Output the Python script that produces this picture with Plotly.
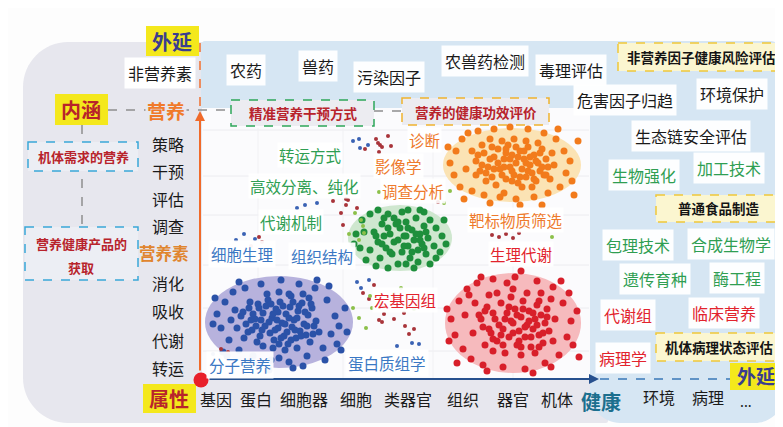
import plotly.graph_objects as go

# ---------------- data (text) ----------------
LEFT_TERMS = ["策略", "干预", "评估", "调查", "营养素", "消化", "吸收", "代谢", "转运"]
AXIS_TERMS = ["基因", "蛋白", "细胞器", "细胞", "类器官", "组织", "器官", "机体"]
AXIS_EXT_TERMS = ["环境", "病理", "..."]
TOP_TERMS = ["农药", "兽药", "污染因子", "农兽药检测", "毒理评估", "危害因子归趋", "环境保护", "生态链安全评估"]
RIGHT_GREEN_TERMS = ["生物强化", "加工技术", "包理技术", "合成生物学", "遗传育种", "酶工程"]
RIGHT_RED_TERMS = ["代谢组", "临床营养", "病理学"]
PLOT_GREEN_TERMS = ["转运方式", "高效分离、纯化", "代谢机制"]
PLOT_BLUE_TERMS = ["细胞生理", "组织结构", "分子营养", "蛋白质组学"]
PLOT_RED_TERMS = ["宏基因组", "生理代谢"]
PLOT_ORANGE_TERMS = ["诊断", "影像学", "调查分析", "靶标物质筛选"]
BOX_TERMS = ["非营养因子健康风险评估", "普通食品制造", "机体病理状态评估"]

# ---------------- data (cluster points, offsets from cluster centre) ----------------
BLUE_PTS = [(-38,-6),(-33,2),(-30,-14),(-27,8),(-24,-3),(-21,-18),(-19,14),(-16,-9),(-14,4),(-11,-22),
            (-9,11),(-7,-4),(-5,18),(-3,-13),(-1,6),(1,-20),(3,1),(5,14),(7,-8),(9,22),(11,-15),(13,5),
            (15,-2),(17,16),(19,-11),(21,9),(23,-19),(25,2),(27,13),(29,-7),(31,20),(33,-14),(35,4),(37,-1),
            (-35,16),(-29,-20),(-22,20),(-12,-28),(0,-30),(12,-26),(24,-28),(-6,26),(6,28),(18,26),(30,-24),
            (-42,6),(40,10),(-2,-2),(8,10),(-18,-2),
            (-36,-10),(-31,10),(-26,-8),(-23,4),(-20,-14),(-17,8),(-13,-16),(-10,0),(-8,-18),(-4,8),
            (-1,-10),(2,16),(4,-16),(6,2),(10,-4),(12,18),(14,-20),(16,8),(20,-16),(22,14),(26,-10),(28,4),
            (32,-18),(34,12),(-28,-2),(-16,24),(0,22),(18,-4),(-6,-8),(10,-28),
            (-62,-8),(-58,6),(-54,-20),(-50,18),(-46,-30),(-44,-12),(-40,28),(-34,-34),(-26,34),(-18,-38),
            (-8,38),(2,-42),(10,40),(20,-38),(28,34),(36,-34),(44,26),(48,-22),(52,12),(56,-6),(60,4),(58,22),
            (-66,2),(-56,30),(46,38),(-30,40),(14,46),(66,-14),(-48,-2),(50,-36),(-10,48),(-64,-24),(38,-42),
            (68,10),(-20,44),(24,44),(-40,-40),(0,36),(-52,34),(62,28)]
ORANGE_PTS = [(-36,-4),(-32,6),(-28,-12),(-24,2),(-20,12),(-18,-8),(-14,-16),(-12,4),(-8,-6),(-6,14),
              (-4,-20),(-2,2),(0,-10),(2,10),(4,-2),(6,18),(8,-14),(10,4),(12,-6),(14,12),(16,-18),(18,0),
              (20,8),(22,-10),(24,16),(26,-2),(28,6),(30,-16),(32,10),(34,-6),(36,2),(-26,16),(-16,20),
              (-10,-24),(2,-26),(14,-24),(26,-22),(38,14),(-40,-14),(40,-12),(-30,-20),(-22,-26),(10,22),
              (-6,-12),(20,22),
              (-34,-10),(-30,0),(-26,8),(-22,-6),(-18,4),(-14,-2),(-10,10),(-6,-16),(-2,-6),(0,6),(4,-18),
              (6,-8),(8,12),(12,-14),(16,6),(18,-8),(22,14),(24,-4),(28,-12),(30,2),(34,10),(-20,-18),(0,16),
              (14,-2),(-8,2),
              (-62,-2),(-58,10),(-56,-14),(-52,22),(-50,-26),(-46,4),(-44,-32),(-40,26),(-34,-34),(-28,30),
              (-18,-36),(-12,32),(-2,-38),(4,34),(16,-36),(22,32),(32,-32),(36,28),(44,-26),(48,22),(52,-14),
              (54,8),(58,-4),(60,16),(-64,-18),(46,-36),(66,-24),(-48,34),(8,40),(-22,38),(62,30),(30,40),
              (-36,10),(42,0),(-8,28)]
RED_PTS = [(-34,-8),(-30,4),(-26,-16),(-22,10),(-18,-4),(-16,18),(-12,-20),(-10,6),(-6,-10),(-4,14),
           (-2,-26),(0,0),(2,-14),(4,22),(6,8),(8,-6),(10,-22),(12,14),(14,2),(16,-12),(18,24),(20,6),
           (22,-4),(24,-18),(26,12),(28,-8),(30,20),(32,0),(34,-14),(36,8),(-28,22),(-20,28),(-8,30),(8,32),
           (22,30),(38,-24),(-38,-20),(-16,-30),(40,18),(0,-34),(14,-30),(-24,-28),(28,-30),(42,-4),(-40,10),
           (-32,-4),(-28,-12),(-24,6),(-20,-10),(-14,2),(-12,12),(-8,-4),(-4,-16),(0,10),(4,-8),(6,18),
           (10,-14),(12,4),(16,-2),(18,14),(20,-10),(24,2),(26,-22),(30,10),(34,-6),(-20,16),(-10,22),(8,24),
           (26,24),(-2,-2),
           (-62,-4),(-58,12),(-54,-22),(-50,26),(-48,-8),(-46,-34),(-42,36),(-36,-40),(-30,42),(-20,-44),
           (-10,44),(2,-46),(12,46),(24,-42),(32,40),(40,-36),(46,32),(50,-20),(54,14),(58,-2),(60,22),
           (56,-30),(-64,18),(64,-12),(-56,40),(-6,-40),(38,44),(-32,-46),(20,50),(-44,-28),(66,34),(-26,48),
           (48,-42),(-66,-14),(8,-52)]
GREEN_PTS = [(-26,-6),(-22,4),(-18,-14),(-14,10),(-10,-4),(-8,16),(-6,-20),(-2,2),(0,-10),(2,14),(4,-2),
             (6,-16),(8,8),(10,20),(12,-8),(14,2),(16,-20),(18,12),(20,-4),(22,6),(24,-12),(26,16),(28,0),
             (-30,12),(-20,20),(-12,-24),(2,-26),(18,24),(30,-18),(34,8),
             (-24,-2),(-18,6),(-12,-10),(-6,4),(-2,-16),(4,8),(8,-10),(12,14),(16,-4),(20,2),(24,10),
             (-10,14),(6,-2),(-16,-20),(26,-6),
             (-44,-4),(-40,10),(-38,-18),(-34,22),(-30,-24),(-24,28),(-12,30),(-2,26),(8,-28),(14,30),
             (24,-26),(30,26),(36,-10),(40,14),(42,-2),(44,-18),(46,6),(-46,6),(-16,-2),(-4,-14),(36,20),
             (-36,-6),(20,-28),(-22,-28),(6,26)]

# scattered transition dots (absolute)
SMALL_BLUE_X = [345,351,352,360,289,297,309,228,236,247,349,353,361,389,404,411,205]
SMALL_BLUE_Y = [133,131,140,137,200,197,195,232,226,231,274,280,272,338,335,336,346]
SMALL_RED_X = [368,374,380,357,371,383,325,338,333,349,335,243,251,254,355,366,361,376,386,397,401,406,396,
               430,484,491,498,505,511,213,220,370,372,338,340,371,374]
SMALL_RED_Y = [131,139,128,141,144,138,193,197,205,200,217,238,229,234,285,277,291,306,311,318,326,321,305,
               194,227,229,226,230,225,341,344,135,137,191,192,312,314]
SMALL_GREEN_X = [347,353,356,341,351,355,351,358,364,373,386,393,406,442,436,544,371,345,362]
SMALL_GREEN_Y = [205,212,225,226,232,218,310,320,300,296,286,280,301,183,195,229,184,300,288]

# ---------------- layout helpers ----------------
FONT = "Noto Sans CJK SC"
W, H = 783, 427
shapes, annotations = [], []


def rect(x0, y0, x1, y1, fill=None, line=None, width=1.5, dash="solid"):
    shapes.append(dict(type="rect", xref="x", yref="y", x0=x0, y0=y0, x1=x1, y1=y1,
                       fillcolor=fill or "rgba(0,0,0,0)",
                       line=dict(color=line or "rgba(0,0,0,0)", width=width if line else 0, dash=dash),
                       layer="below"))


def seg(x0, y0, x1, y1, color, width=1.5, dash="dash"):
    shapes.append(dict(type="line", xref="x", yref="y", x0=x0, y0=y0, x1=x1, y1=y1,
                       line=dict(color=color, width=width, dash=dash), layer="below"))


def ellipse(cx, cy, rx, ry, fill):
    shapes.append(dict(type="circle", xref="x", yref="y", x0=cx - rx, x1=cx + rx, y0=cy - ry, y1=cy + ry,
                       fillcolor=fill, line=dict(width=0), layer="below"))


def path(d, fill):
    shapes.append(dict(type="path", xref="x", yref="y", path=d, fillcolor=fill,
                       line=dict(width=0), layer="below"))


def rpath(x0, y0, x1, y1, rtl, rtr, rbr, rbl):
    k = 0.45
    return (f"M {x0+rtl},{y0} L {x1-rtr},{y0} C {x1-rtr*k},{y0} {x1},{y0+rtr*k} {x1},{y0+rtr} "
            f"L {x1},{y1-rbr} C {x1},{y1-rbr*k} {x1-rbr*k},{y1} {x1-rbr},{y1} "
            f"L {x0+rbl},{y1} C {x0+rbl*k},{y1} {x0},{y1-rbl*k} {x0},{y1-rbl} "
            f"L {x0},{y0+rtl} C {x0},{y0+rtl*k} {x0+rtl*k},{y0} {x0+rtl},{y0} Z")


def text(x, y, s, size=16, color="#1a1a1a", bold=False, bg=None, pad=0):
    annotations.append(dict(x=x, y=y, xref="x", yref="y", text=f"<b>{s}</b>" if bold else s,
                            showarrow=False, xanchor="center", yanchor="middle",
                            font=dict(family=FONT, size=size, color=color),
                            bgcolor=bg or "rgba(0,0,0,0)", borderpad=pad))


# ---------------- colours ----------------
GRAY_BG = "#e7e7ee"
BLUE_BG = "#d6e6f3"
YELLOW = "#f4e81c"
DARK_RED = "#b8232b"
NAVY = "#3a3d8f"
GREEN_T = "#2f9e52"
BLUE_T = "#3b78c4"
RED_T = "#e2232d"
ORANGE_T = "#ee7a2c"

# ---------------- backgrounds ----------------
path(rpath(15, 34, 600, 415, 45, 4, 2, 45), GRAY_BG)
path("M 197,33 L 762,33 C 770,33 777,40 777,48 L 777,385 C 777,401 763,415 747,415 "
     "L 612,415 C 596,415 582,401 582,385 L 582,100 L 193,100 L 193,37 C 193,35 195,33 197,33 Z", BLUE_BG)
rect(194, 100, 582, 371, fill="#fbfbfd")
for gy in [122, 168, 207, 257, 300, 343]:
    seg(195, gy, 581, gy, "#ececf0", width=1, dash="solid")
for gx in [250, 335, 425, 505]:
    seg(gx, 120, gx, 370, "#f1f1f4", width=1, dash="solid")

# cluster ellipses
ellipse(504, 157, 69, 37, "#fbe3b4")
ellipse(392, 230, 52, 33, "#cfe7cf")
ellipse(271, 314, 74, 46, "#b7b2dd")
ellipse(505, 315, 68, 50, "#f6babd")

# connector dashed lines
seg(100, 102, 223, 102, "#8e8e8e")
seg(366, 103, 394, 103, "#8e8e8e")
seg(74, 117, 74, 219, "#8e8e8e")
seg(192, 35, 192, 104, "#f07030", width=1.5)
seg(592, 371, 783, 371, "#3a78b8", width=1.5)

# dashed boxes
rect(20, 134, 130, 163, fill="#eceef4", line="#3aa8d8", dash="dash")
rect(17, 219, 130, 272, fill="#eceef4", line="#3aa8d8", dash="dash")
rect(223, 92, 366, 118, fill="#ececf1", line="#2ea65a", dash="dash")
rect(394, 90, 541, 117, fill="#ececf1", line="#efb32e", dash="dash")
rect(610, 35, 776, 63, fill="#fbf6d0", line="#efc83a", dash="dash")
rect(648, 187, 775, 214, fill="#fbf6d0", line="#efc83a", dash="dash")
rect(648, 325, 774, 353, fill="#fbf6d0", line="#efc83a", dash="dash")

# yellow label boxes
rect(138, 18, 191, 48, fill=YELLOW)
rect(47, 86, 100, 117, fill=YELLOW)
rect(135, 376, 188, 405, fill=YELLOW)
rect(722, 355, 775, 382, fill=YELLOW)

# ---------------- traces ----------------
fig = go.Figure()


def cluster(pts, cx, cy, color, size=7):
    fig.add_trace(go.Scatter(x=[cx + p[0] for p in pts], y=[cy + p[1] for p in pts], mode="markers",
                             marker=dict(size=size, color=color, line=dict(width=0)),
                             hoverinfo="skip", showlegend=False))


cluster(ORANGE_PTS, 504, 157, "#f27b1c")
cluster(GREEN_PTS, 392, 230, "#1e8f3c")
cluster(BLUE_PTS, 271, 314, "#2b52a8")
cluster(RED_PTS, 505, 315, "#d81f2a")
fig.add_trace(go.Scatter(x=SMALL_BLUE_X, y=SMALL_BLUE_Y, mode="markers",
                         marker=dict(size=4, color="#3a62b4"), hoverinfo="skip", showlegend=False))
fig.add_trace(go.Scatter(x=SMALL_RED_X, y=SMALL_RED_Y, mode="markers",
                         marker=dict(size=4, color="#a8343a"), hoverinfo="skip", showlegend=False))
fig.add_trace(go.Scatter(x=SMALL_GREEN_X, y=SMALL_GREEN_Y, mode="markers",
                         marker=dict(size=4, color="#8cc04a"), hoverinfo="skip", showlegend=False))
fig.add_trace(go.Scatter(x=[193], y=[372], mode="markers",
                         marker=dict(size=15, color="#e8202a"), hoverinfo="skip", showlegend=False))

# ---------------- axes arrows ----------------
annotations.append(dict(x=192, y=103, ax=192, ay=364, xref="x", yref="y", axref="x", ayref="y", text="",
                        showarrow=True, arrowhead=2, arrowsize=1, arrowwidth=2, arrowcolor="#f06a2a"))
annotations.append(dict(x=591, y=371, ax=200, ay=371, xref="x", yref="y", axref="x", ayref="y", text="",
                        showarrow=True, arrowhead=2, arrowsize=1, arrowwidth=2, arrowcolor="#26508e"))

# ---------------- texts ----------------
text(164, 33, "外延", 20, NAVY, bold=True)
text(748, 367, "外延", 19, NAVY, bold=True)
text(73, 101, "内涵", 20, DARK_RED, bold=True)
text(161, 390, "属性", 20, DARK_RED, bold=True)
text(152, 65, "非营养素", 16, bg="white", pad=3)
text(158, 102, "营养", 19, "#f07a2a", bold=True, bg=GRAY_BG, pad=1)

LEFT_Y = [136, 163, 191, 218, 245, 275, 303, 332, 360]
for term, yy in zip(LEFT_TERMS, LEFT_Y):
    if term == "营养素":
        text(156, yy, term, 16.5, "#e0852e", bold=True)
    else:
        text(160, yy, term, 16)

AXIS_X = [208, 248, 296, 348, 400, 455, 505, 549]
for term, xx in zip(AXIS_TERMS, AXIS_X):
    text(xx, 391, term, 16)
text(593, 393, "健康", 20, "#1c6f8e", bold=True)
for term, xx, yy, fs in zip(AXIS_EXT_TERMS, [651, 700, 738], [389, 389, 393], [16, 16, 14]):
    text(xx, yy, term, fs)

text(75, 148, "机体需求的营养", 13, DARK_RED, bold=True)
text(73, 235, "营养健康产品的", 13, DARK_RED, bold=True)
text(73, 259, "获取", 13, DARK_RED, bold=True)
text(295, 105, "精准营养干预方式", 13.5, DARK_RED, bold=True)
text(468, 104, "营养的健康功效评价", 13.5, DARK_RED, bold=True)

BOX_POS = [(693, 49), (711, 200), (711, 339)]
for term, (xx, yy) in zip(BOX_TERMS, BOX_POS):
    text(xx, yy, term, 13.5, "#141414", bold=True)

TOP_POS = [(238, 62), (310, 58), (381, 69), (477, 53), (563, 62), (617, 92), (724, 86), (683, 128)]
for term, (xx, yy) in zip(TOP_TERMS, TOP_POS):
    text(xx, yy, term, 16, bg="rgba(255,255,255,0.95)", pad=3)

RG_POS = [(636, 167), (721, 160), (630, 237), (723, 236), (647, 271), (729, 270)]
for term, (xx, yy) in zip(RIGHT_GREEN_TERMS, RG_POS):
    text(xx, yy, term, 16, GREEN_T, bg="rgba(255,255,255,0.95)", pad=3)
RR_POS = [(620, 307), (716, 305), (615, 350)]
for term, (xx, yy) in zip(RIGHT_RED_TERMS, RR_POS):
    text(xx, yy, term, 16, RED_T, bg="rgba(255,255,255,0.95)", pad=3)

PG_POS = [(302, 147), (296, 178), (283, 214)]
for term, (xx, yy) in zip(PLOT_GREEN_TERMS, PG_POS):
    text(xx, yy, term, 15.5, GREEN_T, bg="rgba(255,255,255,0.9)", pad=1)
PB_POS = [(234, 246), (314, 248), (232, 357), (379, 355)]
for term, (xx, yy) in zip(PLOT_BLUE_TERMS, PB_POS):
    text(xx, yy, term, 15.5, BLUE_T, bg="rgba(255,255,255,0.95)", pad=2)
PR_POS = [(397, 292), (513, 246)]
for term, (xx, yy) in zip(PLOT_RED_TERMS, PR_POS):
    text(xx, yy, term, 15.5, RED_T, bg="rgba(255,255,255,0.9)", pad=1)
PO_POS = [(416, 132), (390, 158), (405, 183), (507, 212)]
for term, (xx, yy) in zip(PLOT_ORANGE_TERMS, PO_POS):
    text(xx, yy, term, 15.5, ORANGE_T, bg="rgba(255,255,255,0.9)", pad=1)

fig.update_layout(
    width=W, height=H, margin=dict(l=0, r=0, t=0, b=0),
    paper_bgcolor="#fdfdfd", plot_bgcolor="#fdfdfd",
    xaxis=dict(range=[0, W], visible=False, fixedrange=True),
    yaxis=dict(range=[H, 0], visible=False, fixedrange=True),
    shapes=shapes, annotations=annotations, showlegend=False,
)
fig.write_html("out.html", config={"displayModeBar": False})
